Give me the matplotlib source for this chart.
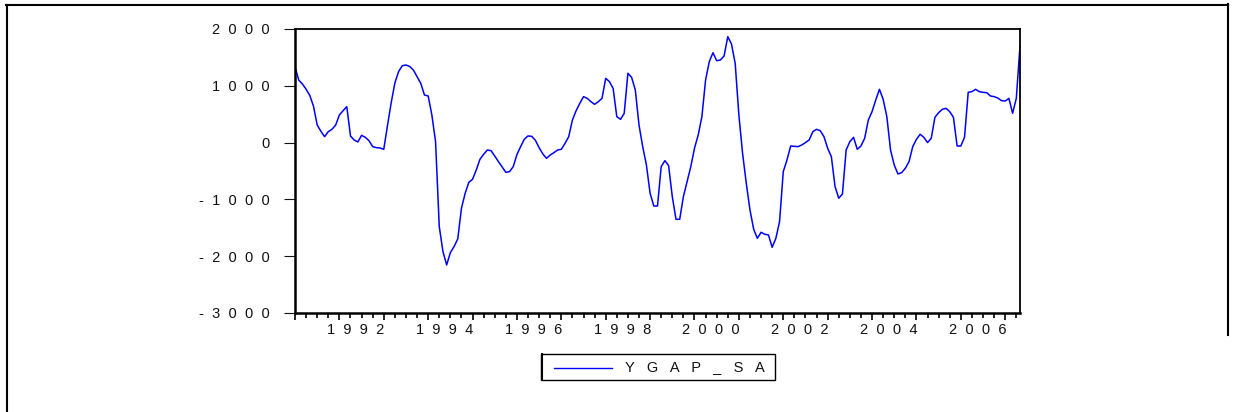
import matplotlib
matplotlib.use('Agg')
import matplotlib.pyplot as plt
from matplotlib.lines import Line2D
from matplotlib.patches import Rectangle
import numpy as np

plt.rcParams['font.family'] = ['Liberation Sans', 'DejaVu Sans']

# monthly series YGAP_SA, 1991M01 .. 2007M05
start_year = 1991
ygap_sa = [
    1337, 1102, 1032, 940, 830, 640, 310, 200, 105, 193, 234, 310,
    486, 562, 633, 116, 46, 11, 128, 93, 34, -71, -89, -95,
    -118, 300, 700, 1050, 1250, 1354, 1366, 1340, 1278, 1161, 1044, 838,
    821, 486, 17, -1479, -1919, -2154, -1937, -1831, -1696, -1156, -893, -699,
    -646, -482, -294, -206, -130, -142, -236, -335, -430, -523, -511, -423,
    -210, -70, 60, 117, 110, 40, -90, -200, -277, -218, -177, -130,
    -118, -13, 105, 398, 562, 691, 809, 779, 721, 674, 721, 779,
    1132, 1073, 955, 457, 410, 515, 1220, 1149, 926, 310, -71, -394,
    -893, -1116, -1116, -423, -318, -405, -951, -1350, -1350, -951, -688, -423,
    -100, 134, 457, 1102, 1425, 1583, 1442, 1454, 1525, 1865, 1736, 1396,
    486, -188, -716, -1186, -1526, -1685, -1579, -1614, -1626, -1843, -1685, -1391,
    -511, -306, -60, -65, -71, -42, 0, 46, 193, 234, 210, 105,
    -100, -247, -775, -980, -904, -130, 17, 93, -118, -60, 75, 398,
    545, 750, 938, 762, 457, -130, -394, -552, -529, -452, -335, -71,
    58, 146, 93, 0, 75, 445, 527, 586, 603, 545, 445, -60,
    -60, 93, 885, 897, 938, 897, 885, 879, 821, 809, 785, 738,
    732, 779, 516, 779, 1701,
]
y_ticks = [-3000, -2000, -1000, 0, 1000, 2000]
label_years = [1992, 1994, 1996, 1998, 2000, 2002, 2004, 2006]
series_name = 'YGAP_SA'

FS = 10.5
TXT = '#111111'


def spaced(s, gap='  '):
    return gap.join(list(s))


W, H = 1234, 412
fig = plt.figure(figsize=(W / 100, H / 100), dpi=100)
ax = fig.add_axes([295 / W, 1 - 313 / H, (1020 - 295) / W, (313 - 29) / H])

months = np.arange(len(ygap_sa))
ax.plot(months, ygap_sa, color='#0000ff', lw=1.1)

ax.set_xlim(0, len(ygap_sa) - 1)
ax.set_ylim(-3000, 2000)

ax.set_yticks(y_ticks)
ax.set_yticklabels([spaced(str(v)) for v in y_ticks], fontsize=FS)
ax.tick_params(axis='y', direction='out', length=8, width=0.8, pad=10, colors=TXT)

# year ticks (major) and quarter ticks (minor)
ax.set_xticks(np.arange(0, len(ygap_sa), 12))
ax.set_xticks(np.arange(0, len(ygap_sa), 3), minor=True)
ax.set_xticklabels([])
ax.tick_params(axis='x', which='major', direction='out', length=5, width=1.2)
ax.tick_params(axis='x', which='minor', direction='out', length=3.5, width=1.2)

trans = ax.get_xaxis_transform()
for yr in label_years:
    ax.text((yr - start_year) * 12 + 4.5, -0.06, spaced(str(yr)), transform=trans,
            ha='center', va='center', fontsize=FS, color=TXT)

for side in ['left', 'bottom']:
    ax.spines[side].set_linewidth(1.8)
for side in ['top', 'right']:
    ax.spines[side].set_linewidth(1.3)


# legend box, figure pixel positions
def fx(px):
    return px / W


def fy(py):
    return 1 - py / H


fig.add_artist(Rectangle((fx(541), fy(380)), fx(775) - fx(541), fy(354) - fy(380),
                         transform=fig.transFigure, fill=False, ec='black', lw=1.0))
fig.add_artist(Line2D([fx(542), fx(542)], [fy(380), fy(354)], color='black', lw=1.5,
                      transform=fig.transFigure))
fig.add_artist(Line2D([fx(554), fx(612)], [fy(367.5), fy(367.5)], color='#0000ff', lw=1.0,
                      transform=fig.transFigure))
fig.text(fx(625), fy(367.5), spaced(series_name, '   '), ha='left', va='center',
         fontsize=FS, color=TXT)

# outer frame
fig.add_artist(Line2D([fx(6.5), fx(6.5)], [fy(4.5), fy(412)], color='black', lw=1.5,
                      transform=fig.transFigure))
fig.add_artist(Line2D([fx(6), fx(1228)], [fy(4.5), fy(4.5)], color='black', lw=1.5,
                      transform=fig.transFigure))
fig.add_artist(Line2D([fx(1227.5), fx(1227.5)], [fy(4), fy(335)], color='black', lw=1.5,
                      transform=fig.transFigure))

fig.savefig('out.png', dpi=100)
